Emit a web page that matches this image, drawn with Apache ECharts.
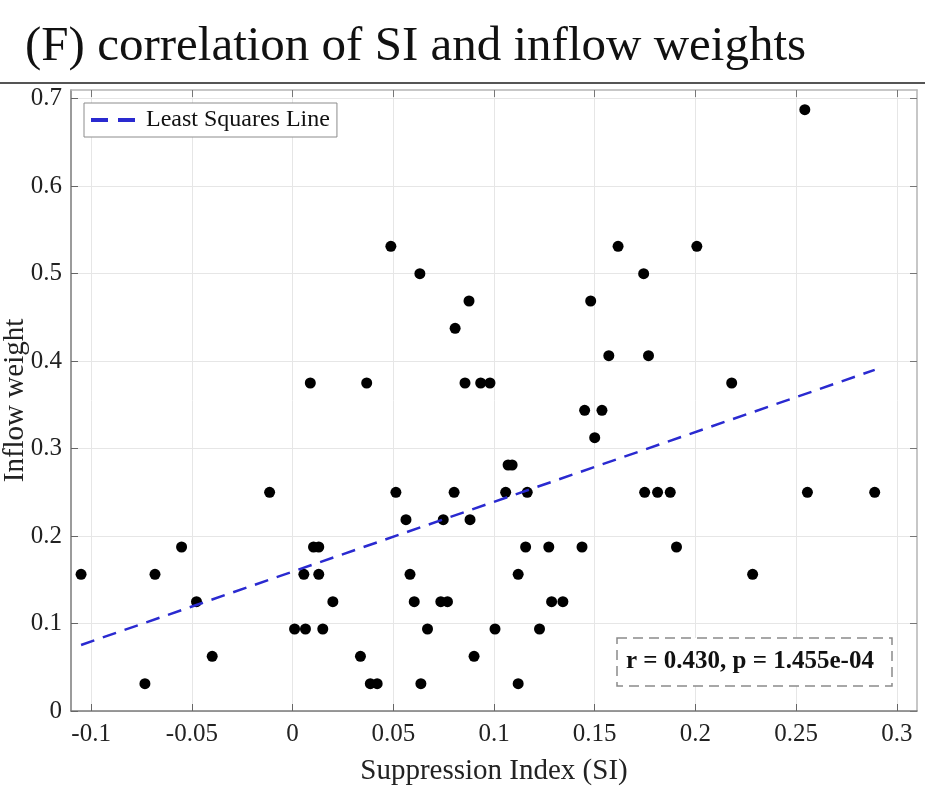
<!DOCTYPE html>
<html>
<head>
<meta charset="utf-8">
<script src="https://cdn.jsdelivr.net/npm/echarts@6/dist/echarts.min.js"></script>
<style>
html,body{margin:0;padding:0;background:#fff;}
#chart{width:946px;height:812px;}
</style>
</head>
<body>
<div id="chart"></div>
<script>
// ---- data ----
const titleText = '(F) correlation of SI and inflow weights';
const xAxisName = 'Suppression Index (SI)';
const yAxisName = 'Inflow weight';
const legendName = 'Least Squares Line';
const statText = 'r = 0.430, p = 1.455e-04';

const xTicks = [-0.1, -0.05, 0, 0.05, 0.1, 0.15, 0.2, 0.25, 0.3];
const yTicks = [0, 0.1, 0.2, 0.3, 0.4, 0.5, 0.6, 0.7];

// SI values (x) and inflow weights (y), one entry per point
const siValues = [
  -0.0733, 0.0386, 0.0420, 0.0637, 0.1120,
  -0.0399, 0.0337, 0.0901,
  0.0010, 0.0064, 0.0150, 0.0670, 0.1005, 0.1226,
  -0.0477, 0.0200, 0.0604, 0.0736, 0.0769, 0.1286, 0.1342,
  -0.1050, -0.0683, 0.0056, 0.0130, 0.0583, 0.1120, 0.2284,
  -0.0551, 0.0104, 0.0130, 0.1157, 0.1272, 0.1437, 0.1906,
  0.0563, 0.0748, 0.0881,
  -0.0114, 0.0513, 0.0802, 0.1058, 0.1165, 0.1748, 0.1812, 0.1875, 0.2556, 0.2890,
  0.1070, 0.1090,
  0.1500,
  0.1450, 0.1536,
  0.0088, 0.0368, 0.0856, 0.0934, 0.0980, 0.2180,
  0.1570, 0.1767,
  0.0807,
  0.0876, 0.1480,
  0.0632, 0.1743,
  0.0488, 0.1616, 0.2007,
  0.2543
];
const inflowValues = [
  0.03125, 0.03125, 0.03125, 0.03125, 0.03125,
  0.0625, 0.0625, 0.0625,
  0.09375, 0.09375, 0.09375, 0.09375, 0.09375, 0.09375,
  0.125, 0.125, 0.125, 0.125, 0.125, 0.125, 0.125,
  0.15625, 0.15625, 0.15625, 0.15625, 0.15625, 0.15625, 0.15625,
  0.1875, 0.1875, 0.1875, 0.1875, 0.1875, 0.1875, 0.1875,
  0.21875, 0.21875, 0.21875,
  0.25, 0.25, 0.25, 0.25, 0.25, 0.25, 0.25, 0.25, 0.25, 0.25,
  0.28125, 0.28125,
  0.3125,
  0.34375, 0.34375,
  0.375, 0.375, 0.375, 0.375, 0.375, 0.375,
  0.40625, 0.40625,
  0.4375,
  0.46875, 0.46875,
  0.5, 0.5,
  0.53125, 0.53125, 0.53125,
  0.6875
];

// least squares line endpoints
const fitX = [-0.105, 0.289];
const fitY = [0.0755, 0.390];

const points = siValues.map((x, i) => [x, inflowValues[i]]);
const fitLine = fitX.map((x, i) => [x, fitY[i]]);

const SERIF = '"Liberation Serif","Times New Roman",serif';
const fmt = v => String(+(+v).toFixed(2));

const chart = echarts.init(document.getElementById('chart'), null, {renderer: 'canvas'});
chart.setOption({
  backgroundColor: '#ffffff',
  animation: false,
  title: {
    text: titleText, left: 20, top: 18,
    textStyle: {fontFamily: SERIF, fontSize: 49, fontWeight: 'normal', color: '#111'}
  },
  legend: {
    data: [{name: legendName, icon: 'path://M0,0H17V4H0Z M27,0H44V4H27Z'}],
    left: 84, top: 103,
    orient: 'vertical',
    padding: [5, 7, 5, 7],
    itemWidth: 44, itemHeight: 4,
    borderColor: '#8c8c8c', borderWidth: 1,
    backgroundColor: '#ffffff',
    itemStyle: {color: '#2a2ad0', borderWidth: 0},
    lineStyle: {opacity: 0},
    textStyle: {fontFamily: SERIF, fontSize: 24, color: '#111', padding: [0, 0, 0, 6]}
  },
  grid: {left: 71, right: 29, top: 90, bottom: 101, containLabel: false, outerBoundsMode: 'none'},
  xAxis: [{
    type: 'value', min: -0.11, max: 0.31,
    name: xAxisName, nameLocation: 'middle', nameGap: 46, nameMoveOverlap: false,
    nameTextStyle: {fontFamily: SERIF, fontSize: 29, color: '#222'},
    axisLine: {show: true, onZero: false, lineStyle: {color: '#7a7a7a', width: 1.5}},
    axisTick: {show: true, inside: true, length: 7, customValues: xTicks, lineStyle: {color: '#666'}},
    axisLabel: {customValues: xTicks, formatter: fmt, margin: 11, fontFamily: SERIF, fontSize: 25, color: '#222'},
    splitLine: {show: true, customValues: xTicks, lineStyle: {color: '#e6e6e6', width: 1}}
  }, {
    type: 'value', min: -0.11, max: 0.31, position: 'top',
    axisLine: {show: true, onZero: false, lineStyle: {color: '#b5b5b5', width: 1.5}},
    axisTick: {show: true, inside: true, length: 7, customValues: xTicks, lineStyle: {color: '#777'}},
    axisLabel: {show: false},
    splitLine: {show: false}
  }],
  yAxis: [{
    type: 'value', min: 0, max: 0.71,
    name: yAxisName, nameLocation: 'middle', nameGap: 41, nameRotate: 90, nameMoveOverlap: false,
    nameTextStyle: {fontFamily: SERIF, fontSize: 29, color: '#222'},
    axisLine: {show: true, onZero: false, lineStyle: {color: '#7a7a7a', width: 1.5}},
    axisTick: {show: true, inside: true, length: 7, customValues: yTicks, lineStyle: {color: '#666'}},
    axisLabel: {customValues: yTicks, formatter: fmt, margin: 9, fontFamily: SERIF, fontSize: 25, color: '#222'},
    splitLine: {show: true, customValues: yTicks, lineStyle: {color: '#e6e6e6', width: 1}}
  }, {
    type: 'value', min: 0, max: 0.71, position: 'right',
    axisLine: {show: true, onZero: false, lineStyle: {color: '#b5b5b5', width: 1.5}},
    axisTick: {show: true, inside: true, length: 7, customValues: yTicks, lineStyle: {color: '#777'}},
    axisLabel: {show: false},
    splitLine: {show: false}
  }],
  graphic: [
    {type: 'line', shape: {x1: 0, y1: 83, x2: 925, y2: 83}, style: {stroke: '#555', lineWidth: 2}, z: 100},
    {type: 'rect', shape: {x: 617, y: 638, width: 275, height: 48},
     style: {fill: '#ffffff', stroke: '#8a8a8a', lineWidth: 1.5, lineDash: [10, 6]}, z: 100},
    {type: 'text', x: 626, y: 662,
     style: {text: statText, font: 'bold 25px ' + SERIF, fill: '#111', textVerticalAlign: 'middle', verticalAlign: 'middle'}, z: 101}
  ],
  series: [{
    type: 'scatter', name: 'data', xAxisIndex: 0, yAxisIndex: 0,
    data: points, symbol: 'circle', symbolSize: 11,
    itemStyle: {color: '#000', opacity: 1}, z: 2
  }, {
    type: 'line', name: legendName, xAxisIndex: 0, yAxisIndex: 0,
    data: fitLine, symbol: 'none', showSymbol: false,
    lineStyle: {color: '#2a2ad0', width: 2.5, type: [14, 9]},
    itemStyle: {color: '#2a2ad0'}, z: 3
  }]
});
</script>
</body>
</html>
